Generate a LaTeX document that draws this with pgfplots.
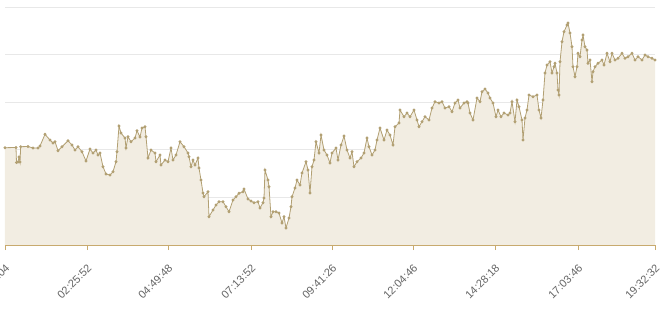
\documentclass[border=0pt]{standalone}
\usepackage{pgfplots}
\pgfplotsset{compat=1.18}
\usepackage{fontspec}
\setmainfont{Liberation Sans}
\definecolor{linec}{RGB}{178,160,115}
\definecolor{fillc}{RGB}{242,237,226}
\definecolor{axisc}{RGB}{200,170,110}
\definecolor{gridc}{RGB}{232,232,232}
\definecolor{labc}{RGB}{100,100,100}
\pgfplotstableread{
x y
5 97.3
16 97.5
16.5 82.5
18 83
19 88
20 83
20.7 98.3
28 98.5
33 97
38 97
40 99
45 110.7
50 105
53 102
55 103.3
58 94.3
62 98.3
68 104.3
72 100
75 95
78 98.3
82 93.3
86 84
90 96
93 92
96 95
98 90
100 92
103 78.3
106 71
110 70
113 73.3
116 83.3
117 93.3
119 119
121 112
125 107
126 97
128 108.3
131 103.3
135 107
137 114.3
140 108
142 117
145 118.3
146 108.3
148 87
151 95
155 92
156 83.3
160 90
161 80
165 85
168 83.3
171 97
173 85
176 90
180 103.3
184 98.3
188 92
189 88.3
191 78.3
193 85
195 80
198 87
199 77
201 65
203 52
204 48.3
208 53.3
209 28.3
213 35
216 40
219 43.3
223 43.3
226 38.3
229 33.3
233 45
236 48.3
239 51.7
243 53.3
244 56
248 46
251 44
254 42.3
258 43.3
260 37
263 42.3
264 47
265 75
268 65
269 58.3
271 28.3
273 33.3
276 33.3
279 32
282 22
284 28.3
286 17
289 27
291 38.3
292 48.3
295 57
297 65
300 60
302 72
306 83.3
308 75
310 52
312 78.3
314 85
316 103.3
319 92
321 110
324 95
327 90
330 82
332 92
336 97
338 85
341 100
344 109
347 95
350 87
352 93.3
354 78.3
357 83.3
361 87
364 92
367 107
369 98.3
372 90
375 95
377 105
380 117
384 105
387 115
390 110
393 100
395 118.3
399 122
400 135
404 128.3
407 132
410 128.3
414 135
417 125
419 118.3
422 123.3
425 128.3
429 125
432 137
435 143.3
439 142
442 143.3
445 137
449 138.3
452 133.3
455 142
458 145
460 137
464 142
467 143.3
468 142
470 132
473 125
477 147
480 143.3
482 153.3
485 156
488 152
490 147
493 142
496 128.3
498 135
501 128.3
504 132
508 130
510 132
512 143.3
515 123.3
517 145
519 138.3
522 125
523 105
525 127
527 135
529 150
533 148.3
537 150
539 135
541 127
543 145
545 172
547 180
550 183.3
552 172
554 178.3
555 181.7
557 172
558 155
559 150
560 183.3
562 203.3
564 213.3
567 220
568 222
570 212
572 198.3
573 178.3
575 168.3
577 178.3
578 191.7
580 188.3
582 205
583 210
585 198.3
587 195
588 181.7
590 185
592 163.3
593 173.3
595 178.3
598 181.7
602 185
604 180
607 191.7
610 183.3
612 191.7
615 185
618 186.7
622 191.7
625 186.7
628 188.3
632 191.7
635 185
638 188.3
642 185
645 190
648 188.3
652 186.7
655 185
}\series
\begin{document}
\begin{tikzpicture}
\begin{axis}[
  at={(0,0)}, anchor=south west,
  scale only axis, width=650pt, height=245pt,
  xmin=5, xmax=655, ymin=0, ymax=245,
  axis line style={draw=none},
  xtick={5,87,168,251,332,413,495,578,655},
  xticklabels={00:00:04,02:25:52,04:49:48,07:13:52,09:41:26,12:04:46,14:28:18,17:03:46,19:32:32},
  xtick pos=bottom, tick align=outside, major tick length=5pt,
  xtick style={draw=axisc, line width=0.8pt},
  ytick={47.6,95.2,142.8,190.4,238}, yticklabels={},
  ytick style={draw=none},
  ymajorgrids, grid style={draw=gridc, line width=0.8pt},
  xticklabel style={xshift=5pt, yshift=-14pt, rotate=45, anchor=east, font=\fontsize{11}{13}\selectfont, text=labc},
  /pgf/number format/assume math mode=true,
  clip=false,
]
\addplot[draw=none, fill=fillc] table {\series} \closedcycle;
\addplot[color=linec, line width=0.8pt, mark=*, mark size=1pt, mark options={fill=linec, draw=linec}] table {\series};
\draw[axisc, line width=0.8pt] (axis cs:5,0) -- (axis cs:655,0);
\end{axis}
\pgfresetboundingbox
\useasboundingbox (-5pt,-64pt) rectangle (664pt,245pt);
\end{tikzpicture}
\end{document}
